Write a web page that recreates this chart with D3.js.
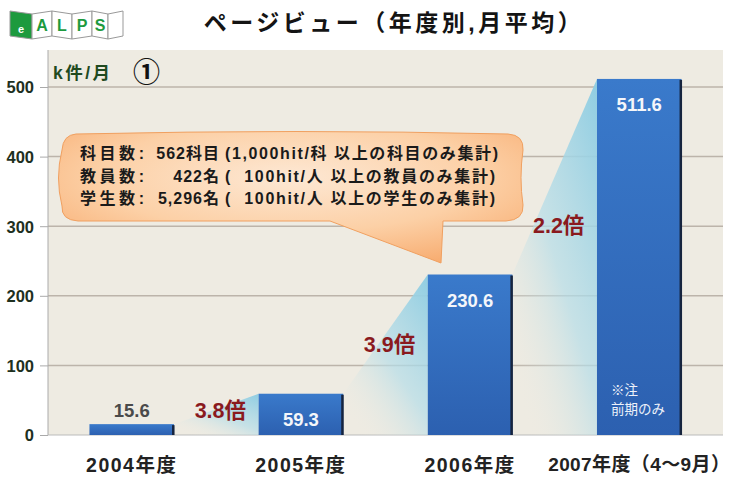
<!DOCTYPE html>
<html>
<head>
<meta charset="utf-8">
<script src="https://cdn.jsdelivr.net/npm/d3@7"></script>
<style>
  body { margin: 0; background: #fff; }
  svg text { font-family: "Liberation Sans", "Noto Sans CJK JP", sans-serif; }
</style>
</head>
<body>
<svg id="chart" width="729" height="477"></svg>
<script>
// data
var years = ['2004年度', '2005年度', '2006年度', '2007年度（4～9月）'];
var views = [15.6, 59.3, 230.6, 511.6];
var ratios = ['3.8倍', '3.9倍', '2.2倍'];
var yTicks = [0, 100, 200, 300, 400, 500];
var noteHead = ['科目数:', '教員数:', '学生数:'];
var noteNum = ['562科目', '422名', '5,296名'];
var noteTail = ['(1,000hit/科 以上の科目のみ集計)', '(  100hit/人 以上の教員のみ集計)', '(  100hit/人 以上の学生のみ集計)'];
var logoLetters = ['e', 'A', 'L', 'P', 'S', ''];

var svg = d3.select('#chart');
var defs = svg.append('defs');

/* Scales */
var x = d3.scaleBand()
  .domain(years)
  .range([48, 723])
  .paddingInner(0.5)
  .paddingOuter(0.245);

var y = d3.scaleLinear()
  .domain([0, 500])
  .range([435, 87]);

/* Gradients */
var barGrad = defs.append('linearGradient').attr('id', 'barGrad')
  .attr('x1', 0).attr('y1', 0).attr('x2', 0).attr('y2', 1);
barGrad.append('stop').attr('offset', 0).attr('stop-color', '#3a7acb');
barGrad.append('stop').attr('offset', 1).attr('stop-color', '#2c60b0');

var wedgeGrad = defs.append('linearGradient').attr('id', 'wedgeGrad')
  .attr('x1', 1).attr('y1', 0).attr('x2', 0.2).attr('y2', 1);
wedgeGrad.append('stop').attr('offset', 0).attr('stop-color', '#8fcde2').attr('stop-opacity', 1);
wedgeGrad.append('stop').attr('offset', 0.55).attr('stop-color', '#b5dde8').attr('stop-opacity', 0.7);
wedgeGrad.append('stop').attr('offset', 1).attr('stop-color', '#eeebe2').attr('stop-opacity', 0);

var bubbleGrad = defs.append('radialGradient').attr('id', 'bubbleGrad')
  .attr('cx', 0.5).attr('cy', 0.35).attr('r', 0.75);
bubbleGrad.append('stop').attr('offset', 0).attr('stop-color', '#fde8d4');
bubbleGrad.append('stop').attr('offset', 0.55).attr('stop-color', '#fcd0a6');
bubbleGrad.append('stop').attr('offset', 1).attr('stop-color', '#f7a86a');

/* Plot background */
svg.append('rect')
  .attr('x', 48).attr('y', 50)
  .attr('width', 675).attr('height', 385)
  .attr('fill', '#eeebe2');

/* Grid */
svg.append('g')
  .selectAll('line')
  .data(yTicks.filter(function (d) { return d > 0; }))
  .join('line')
  .attr('x1', 48).attr('x2', 723)
  .attr('y1', function (d) { return y(d); })
  .attr('y2', function (d) { return y(d); })
  .attr('stroke', '#bcb4aa')
  .attr('stroke-width', 1.5);

/* Axes */
var yAxis = d3.axisLeft(y).tickValues(yTicks).tickSize(8).tickPadding(6);
var gy = svg.append('g')
  .attr('transform', 'translate(48,0)')
  .call(yAxis);
gy.select('.domain').attr('stroke', '#aaa').attr('d', 'M0,50V435');
gy.selectAll('.tick line').attr('stroke', '#aaa');
gy.selectAll('.tick text')
  .attr('font-size', 16.5).attr('font-weight', 'bold')
  .attr('fill', '#1e301e')
  .attr('dy', '0.36em');

var xAxis = d3.axisBottom(x).tickSize(0).tickPadding(23);
var gx = svg.append('g')
  .attr('transform', 'translate(0,435)')
  .call(xAxis);
gx.select('.domain').attr('stroke', '#bbb').attr('d', 'M48,0H723');
gx.selectAll('.tick text')
  .attr('font-size', function (d, i) { return i === years.length - 1 ? 19 : 19.5; })
  .attr('font-weight', 'bold')
  .attr('letter-spacing', function (d, i) { return i === years.length - 1 ? 0.4 : 1.5; })
  .attr('fill', '#222');

/* Growth wedges */
var pairs = d3.range(views.length - 1);
svg.append('g')
  .selectAll('path')
  .data(pairs)
  .join('path')
  .attr('d', function (i) {
    var x0 = x(years[i]) + x.bandwidth();
    var x1 = x(years[i + 1]);
    return 'M' + x0 + ',' + y(views[i]) +
      'L' + x1 + ',' + y(views[i + 1]) +
      'L' + x1 + ',' + y(0) +
      'L' + x0 + ',' + y(0) + 'Z';
  })
  .attr('fill', 'url(#wedgeGrad)');

/* Callout bubble */
svg.append('path')
  .attr('d', 'M76,134 Q300,129 508,134 Q524,135 523,150 Q519,178 523,205 Q524,220 506,221 ' +
    'L443,221 L441,263 L330,221 L78,221 Q61,220 62,206 Q55,178 62,150 Q63,135 76,134 Z')
  .attr('fill', 'url(#bubbleGrad)')
  .attr('stroke', '#f0a060')
  .attr('stroke-width', 1);

var note = svg.append('g')
  .attr('font-size', 16)
  .attr('font-weight', 'bold')
  .attr('fill', '#1a1a1a');
note.selectAll('text.h').data(noteHead).join('text').attr('class', 'h')
  .attr('x', 80).attr('y', function (d, i) { return 159 + i * 22.5; })
  .attr('textLength', 64).attr('lengthAdjust', 'spacing')
  .text(function (d) { return d; });
note.selectAll('text.n').data(noteNum).join('text').attr('class', 'n')
  .attr('x', 220).attr('text-anchor', 'end')
  .attr('letter-spacing', 1)
  .attr('y', function (d, i) { return 159 + i * 22.5; })
  .text(function (d) { return d; });
note.selectAll('text.t').data(noteTail).join('text').attr('class', 't')
  .attr('x', 225)
  .attr('y', function (d, i) { return 159 + i * 22.5; })
  .attr('textLength', function (d, i) { return i === 0 ? 273 : 270; })
  .attr('lengthAdjust', 'spacing')
  .style('white-space', 'pre')
  .text(function (d) { return d; });

/* Bars */
var bars = svg.append('g')
  .selectAll('g')
  .data(views)
  .join('g');

bars.append('rect')
  .attr('x', function (d, i) { return x(years[i]); })
  .attr('y', function (d) { return y(d); })
  .attr('width', x.bandwidth())
  .attr('height', function (d) { return y(0) - y(d); })
  .attr('fill', 'url(#barGrad)');

bars.append('rect')
  .attr('x', function (d, i) { return x(years[i]) + x.bandwidth() - 2; })
  .attr('y', function (d) { return y(d) + 1; })
  .attr('width', 2.5)
  .attr('height', function (d) { return y(0) - y(d) - 1; })
  .attr('fill', '#16243e');

/* Value labels */
bars.append('text')
  .attr('x', function (d, i) { return x(years[i]) + x.bandwidth() / 2; })
  .attr('y', function (d) { return (y(0) - y(d) < 30) ? y(d) - 7 : y(d) + 32; })
  .attr('text-anchor', 'middle')
  .attr('font-size', 18.5)
  .attr('font-weight', 'bold')
  .attr('fill', function (d) { return (y(0) - y(d) < 30) ? '#4a4a4a' : '#f4f6fa'; })
  .text(function (d) { return d; });

/* Note in last bar */
var last = years.length - 1;
svg.append('g')
  .attr('font-size', 13.5)
  .attr('fill', '#eef2fa')
  .selectAll('text')
  .data(['※注', '前期のみ'])
  .join('text')
  .attr('x', x(years[last]) + 14)
  .attr('y', function (d, i) { return 395 + i * 19; })
  .text(function (d) { return d; });

/* Ratio labels */
svg.append('g')
  .selectAll('text')
  .data(pairs)
  .join('text')
  .attr('x', function (i) { return (x(years[i]) + x.bandwidth() + x(years[i + 1])) / 2 + 4; })
  .attr('y', function (i) {
    var a = y(views[i]), b = y(views[i + 1]);
    return a - Math.min(0.45 * (a - b), 50) + 8;
  })
  .attr('text-anchor', 'middle')
  .attr('font-size', 21.5)
  .attr('font-weight', 'bold')
  .attr('fill', '#8a1a1e')
  .text(function (i) { return ratios[i]; });

/* Unit label */
svg.append('text')
  .attr('x', 53).attr('y', 79)
  .attr('font-size', 17.5).attr('font-weight', 'bold')
  .attr('letter-spacing', 2.5)
  .attr('fill', '#1f4a1f')
  .text('k件/月');
svg.append('text')
  .attr('x', 133).attr('y', 82)
  .attr('font-size', 27).attr('font-weight', 'bold')
  .style('font-family', '"Noto Sans CJK JP", sans-serif')
  .attr('fill', '#111')
  .text('①');

/* Title */
svg.append('text')
  .attr('x', 394).attr('y', 31)
  .attr('text-anchor', 'middle')
  .attr('font-size', 23).attr('font-weight', 'bold')
  .attr('letter-spacing', 3.5)
  .attr('fill', '#141414')
  .text('ページビュー（年度別,月平均）');

/* Logo */
var edges = [10, 32, 52, 72, 92, 108, 123];
var logo = svg.append('g');
logo.selectAll('path')
  .data(logoLetters)
  .join('path')
  .attr('d', function (d, i) {
    var a = edges[i], b = edges[i + 1];
    var t0 = i % 2 ? 14 : 11, t1 = i % 2 ? 11 : 14;
    return 'M' + a + ',' + t0 + 'L' + b + ',' + t1 + 'L' + b + ',' + (t1 + 25) + 'L' + a + ',' + (t0 + 25) + 'Z';
  })
  .attr('fill', function (d, i) { return i === 0 ? '#1d9a3e' : '#fff'; })
  .attr('stroke', '#999')
  .attr('stroke-width', 1);
logo.selectAll('text')
  .data(logoLetters)
  .join('text')
  .attr('x', function (d, i) { return (edges[i] + edges[i + 1]) / 2; })
  .attr('y', function (d, i) { return i === 0 ? 33 : 31; })
  .attr('text-anchor', 'middle')
  .attr('font-size', function (d, i) { return i === 0 ? 11 : 16; })
  .attr('font-weight', 'bold')
  .attr('fill', function (d, i) { return i === 0 ? '#fff' : '#1d9a3e'; })
  .text(function (d) { return d; });
</script>
</body>
</html>
